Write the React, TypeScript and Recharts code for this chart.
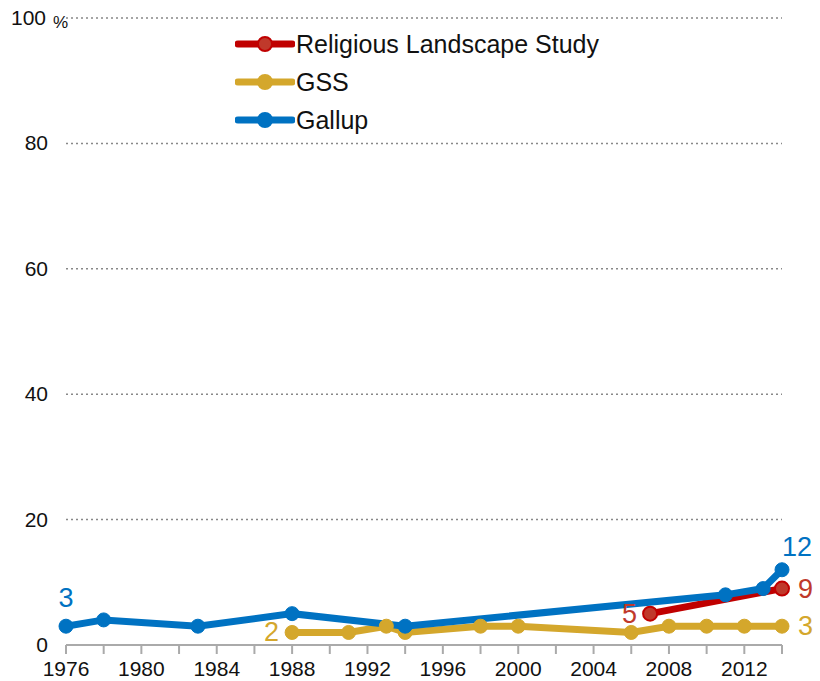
import React from 'react'
import { LineChart, Line, XAxis, YAxis, CartesianGrid, LabelList } from 'recharts'

const gallupYears = [1976, 1978, 1983, 1988, 1994, 2011, 2013, 2014]
const gallupValues = [3, 4, 3, 5, 3, 8, 9, 12]

const gssYears = [1988, 1991, 1993, 1994, 1998, 2000, 2006, 2008, 2010, 2012, 2014]
const gssValues = [2, 2, 3, 2, 3, 3, 2, 3, 3, 3, 3]

const rlsYears = [2007, 2014]
const rlsValues = [5, 9]

const yTicks = [0, 20, 40, 60, 80, 100]
const xTicks = [1976, 1978, 1980, 1982, 1984, 1986, 1988, 1990, 1992, 1994, 1996, 1998, 2000, 2002, 2004, 2006, 2008, 2010, 2012, 2014]

const gallup = gallupYears.map((year, i) => ({ year, value: gallupValues[i] }))
const gss = gssYears.map((year, i) => ({ year, value: gssValues[i] }))
const rls = rlsYears.map((year, i) => ({ year, value: rlsValues[i] }))

const FONT = '"Liberation Sans", Arial, sans-serif'
const BLUE = '#0072c2'
const GOLD = '#d4a72c'
const RED = '#c00000'

const series = [
  { name: 'Religious Landscape Study', color: RED, dotFill: '#c0392b' },
  { name: 'GSS', color: GOLD, dotFill: GOLD },
  { name: 'Gallup', color: BLUE, dotFill: BLUE },
]

const YTick = (props: any) => {
  const { y, payload } = props
  if (payload.value === 100) {
    return (
      <g>
        <text x={46} y={y} dy={7} textAnchor="end" fontSize={21} fill="#111" fontFamily={FONT}>100</text>
        <text x={53} y={y} dy={10} fontSize={17} fill="#111" fontFamily={FONT}>%</text>
      </g>
    )
  }
  return (
    <text x={48} y={y} dy={7} textAnchor="end" fontSize={21} fill="#111" fontFamily={FONT}>
      {payload.value}
    </text>
  )
}

// which points get a value label, and where it sits
const makeLabel = (color: string, spots: Record<number, 'above' | 'left' | 'right' | 'aboveRight'>) => (props: any) => {
  const { x, y, index, value } = props
  const spot = spots[index]
  if (!spot) return null
  let tx = x
  let ty = y
  let anchor: 'start' | 'middle' | 'end' = 'middle'
  if (spot === 'above') { ty = y - 19 }
  if (spot === 'aboveRight') { ty = y - 14; anchor = 'start' }
  if (spot === 'left') { tx = x - 13; ty = y + 9; anchor = 'end' }
  if (spot === 'right') { tx = x + 16; ty = y + 9; anchor = 'start' }
  return (
    <text x={tx} y={ty} textAnchor={anchor} fontSize={27} fill={color} fontFamily={FONT}>
      {value}
    </text>
  )
}

const LegendBox = () => (
  <div style={{ position: 'absolute', left: 235, top: 25, fontFamily: FONT, fontSize: 25, color: '#111' }}>
    {series.map((s) => (
      <div key={s.name} style={{ display: 'flex', alignItems: 'center', height: 38 }}>
        <svg width={60} height={20} style={{ marginRight: 1 }}>
          <line x1={3} y1={10} x2={57} y2={10} stroke={s.color} strokeWidth={7} strokeLinecap="round" />
          <circle cx={30} cy={10} r={7} fill={s.dotFill} stroke={s.color} strokeWidth={2} />
        </svg>
        <span>{s.name}</span>
      </div>
    ))}
  </div>
)

const App = () => {
  return (
    <div style={{ position: 'absolute', left: 0, top: 0, width: 820, height: 681 }}>
      <LineChart width={820} height={681} margin={{ top: 18, right: 38, left: 0, bottom: 6 }}>
        <CartesianGrid vertical={false} stroke="#888" strokeDasharray="2 3" strokeWidth={1.5} />
        <XAxis
          type="number"
          dataKey="year"
          domain={[1976, 2014]}
          ticks={xTicks}
          interval={0}
          tickFormatter={(v: number) => ((v - 1976) % 4 === 0 ? String(v) : '')}
          axisLine={{ stroke: '#aaa', strokeWidth: 2 }}
          tickLine={{ stroke: '#aaa', strokeWidth: 2 }}
          tickSize={9}
          tickMargin={7}
          tick={{ fontSize: 21, fill: '#111', fontFamily: FONT }}
          height={30}
          allowDuplicatedCategory={false}
        />
        <YAxis
          type="number"
          domain={[0, 100]}
          ticks={yTicks}
          width={66}
          axisLine={false}
          tickLine={false}
          tick={<YTick />}
        />
        <Line
          data={gss}
          dataKey="value"
          name="GSS"
          stroke={GOLD}
          strokeWidth={7}
          dot={{ r: 7, fill: GOLD, stroke: GOLD, strokeWidth: 1 }}
          isAnimationActive={false}
        >
          <LabelList dataKey="value" content={makeLabel(GOLD, { 0: 'left', 10: 'right' })} />
        </Line>
        <Line
          data={rls}
          dataKey="value"
          name="Religious Landscape Study"
          stroke={RED}
          strokeWidth={7}
          dot={{ r: 7, fill: '#c0392b', stroke: RED, strokeWidth: 2 }}
          isAnimationActive={false}
        >
          <LabelList dataKey="value" content={makeLabel('#c0392b', { 0: 'left', 1: 'right' })} />
        </Line>
        <Line
          data={gallup}
          dataKey="value"
          name="Gallup"
          stroke={BLUE}
          strokeWidth={7}
          dot={{ r: 7, fill: BLUE, stroke: BLUE, strokeWidth: 1 }}
          isAnimationActive={false}
        >
          <LabelList dataKey="value" content={makeLabel(BLUE, { 0: 'above', 7: 'aboveRight' })} />
        </Line>
      </LineChart>
      <LegendBox />
    </div>
  )
}

export default App
